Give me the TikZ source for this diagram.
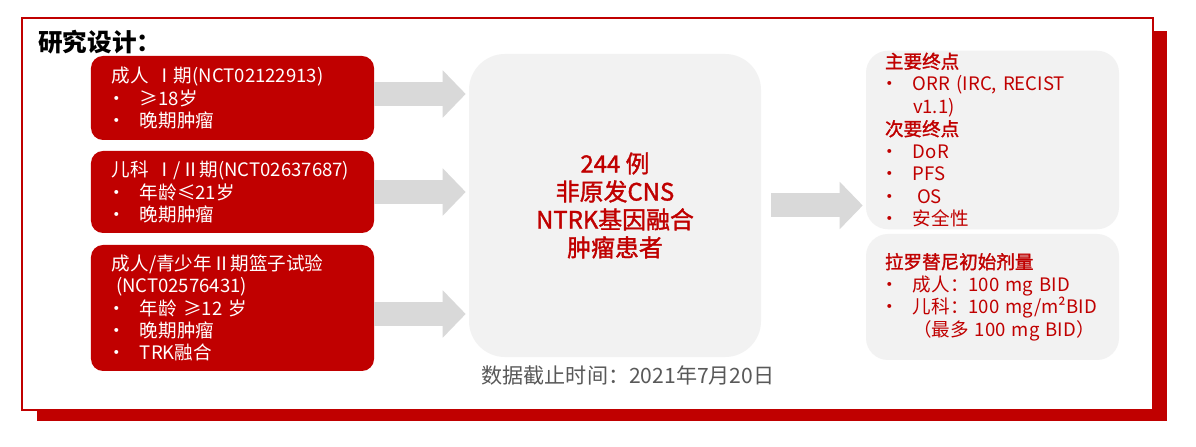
\documentclass[tikz,border=0pt]{standalone}
\usepackage{fontspec}
\setmainfont{Noto Sans CJK SC}
\newfontfamily\medfont{Noto Sans CJK SC}[FakeBold=1.5]
\usetikzlibrary{arrows.meta}
\definecolor{boxred}{HTML}{C00000}
\definecolor{boxgray}{HTML}{F2F2F2}
\definecolor{arrowgray}{HTML}{D9D9D9}
\definecolor{notegray}{HTML}{595959}
\newcommand{\itm}{\makebox[7mm][l]{\hspace{-1.2mm}•}}
\begin{document}
\begin{tikzpicture}[x=0.25mm,y=-0.25mm,
	trial/.style={fill=boxred, text=white, rounded corners=3mm, minimum width=70.75mm, text width=60.25mm, inner xsep=5.25mm, align=left, font=\fontsize{13.2}{15.8}\selectfont},
	pool/.style={fill=boxgray, text=boxred, rounded corners=9mm, minimum width=73mm, minimum height=75.75mm, align=center, font=\fontsize{17}{19.9}\selectfont\medfont},
	result/.style={fill=boxgray, text=boxred, rounded corners=5.5mm, minimum width=63.25mm, text width=53.75mm, inner xsep=4.75mm, inner ysep=0.5mm, align=left, font=\fontsize{13.2}{16}\selectfont},
	flow/.style={draw=arrowgray, line width=6mm, -{Triangle[length=5.75mm,width=11.5mm]}, shorten >=0.75mm}]
				\useasboundingbox (0,0) rectangle (1196,447);
				\fill [boxred] (37,31) rectangle (1167,421);
				\draw [boxred, fill=white, line width=0.45mm] (22,18) rectangle (1153,410);
				\node [anchor=west, inner sep=0pt, font=\fontsize{17.5}{20}\selectfont\bfseries] (title) at (38,42) {研究设计：};
				\node [trial, minimum height=21mm] (adult) at (232.5,98) {成人 Ⅰ期(NCT02122913)\\ \itm ≥18岁\\ \itm 晚期肿瘤};
				\node [trial, minimum height=20.5mm] (child) at (232.5,192) {儿科 Ⅰ/Ⅱ期(NCT02637687)\\ \itm 年龄≤21岁\\ \itm 晚期肿瘤};
				\node [trial, minimum height=31.5mm] (basket) at (232.5,308) {成人/青少年Ⅱ期篮子试验\\ \hspace*{1mm}(NCT02576431)\\ \itm 年龄 ≥12 岁\\ \itm 晚期肿瘤\\ \itm TRK融合};
				\node [pool] (pts) at (615,205.5) {244 例\\ 非原发CNS\\ NTRK基因融合\\ 肿瘤患者};
				\node [text=notegray, font=\fontsize{15}{18}\selectfont] (cutoff) at (628,375) {数据截止时间：2021年7月20日};
				\node [result, minimum height=43mm] (endpt) at (992.5,140) {{\medfont 主要终点}\\ \itm ORR (IRC, RECIST\\ \hspace*{7mm}v1.1)\\ {\medfont 次要终点}\\ \itm DoR\\ \itm PFS\\ \itm\hspace{1mm}OS\\ \itm 安全性};
				\node [result, minimum height=31.5mm] (dose) at (992.5,297) {{\medfont 拉罗替尼初始剂量}\\ \itm 成人：100 mg BID\\ \itm 儿科：100 mg/m²BID\\ \hspace*{7mm}（最多 100 mg BID）};
				\draw [flow] ([yshift=1mm]adult.east) -- ([yshift=1mm]adult.east -| pts.west);
				\draw [flow] (child.east) -- (child.east -| pts.west);
				\draw [flow] ([yshift=-1.5mm]basket.east) -- ([yshift=-1.5mm]basket.east -| pts.west);
				\draw [flow, shorten <=2.5mm] (pts.east) -- (pts.east -| endpt.west);
\end{tikzpicture}
\end{document}
